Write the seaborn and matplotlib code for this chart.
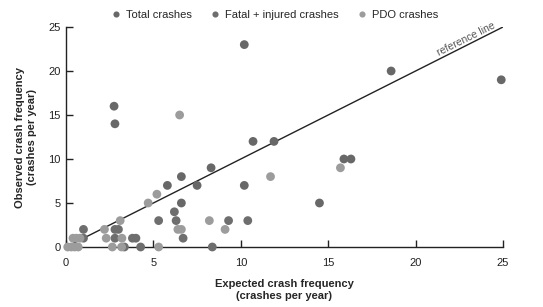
import seaborn as sns
import matplotlib.pyplot as plt
import pandas as pd
import numpy as np

# expected vs observed crash frequency
total_x = [10.2, 18.6, 24.9, 2.75, 2.8, 10.7, 11.9, 15.9, 16.3, 8.3, 6.6, 5.8, 7.5, 10.2, 14.5, 6.6]
total_y = [23, 20, 19, 16, 14, 12, 12, 10, 10, 9, 8, 7, 7, 7, 5, 5]

fatal_x = [6.2, 5.3, 6.3, 9.3, 10.4, 1.0, 2.8, 3.0, 1.0, 2.8, 3.8, 4.0, 6.7, 3.34, 4.27, 8.37]
fatal_y = [4, 3, 3, 3, 3, 2, 2, 2, 1, 1, 1, 1, 1, 0, 0, 0]

pdo_x = [6.5, 11.7, 15.7, 5.2, 4.7, 3.1, 8.2, 2.2, 6.4, 6.6, 9.1, 0.4, 0.6, 0.8, 2.3, 3.2,
         0.1, 0.3, 0.5, 0.7, 2.65, 3.18, 5.3]
pdo_y = [15, 8, 9, 6, 5, 3, 3, 2, 2, 2, 2, 1, 1, 1, 1, 1,
         0, 0, 0, 0, 0, 0, 0]

ticks = [0, 5, 10, 15, 20, 25]

df = pd.concat([
    pd.DataFrame({'expected': total_x, 'observed': total_y, 'type': 'Total crashes'}),
    pd.DataFrame({'expected': fatal_x, 'observed': fatal_y, 'type': 'Fatal + injured crashes'}),
    pd.DataFrame({'expected': pdo_x, 'observed': pdo_y, 'type': 'PDO crashes'}),
])
colors = {'Total crashes': '#686868', 'Fatal + injured crashes': '#6e6e6e', 'PDO crashes': '#9c9c9c'}

sns.set_style('white')
plt.rcParams['font.family'] = ['Liberation Sans', 'DejaVu Sans']

fig = plt.figure(figsize=(5.43, 3.07), dpi=100)
ax = fig.add_axes([66/543, 1-247/307, 437/543, 220/307])

sns.scatterplot(data=df, x='expected', y='observed', hue='type', palette=colors,
                s=40, linewidth=0, ax=ax, clip_on=False, zorder=3)

# reference line y = x
ax.plot([0, 25], [0, 25], color='#222222', lw=1, zorder=2)
ax.text(22.9, 23.6, 'reference line', rotation=26.5, ha='center', va='center',
        fontsize=7.5, color='#555555', rotation_mode='anchor')

ax.set_xlim(0, 25)
ax.set_ylim(0, 25)
ax.set_xticks(ticks)
ax.set_yticks(ticks)
ax.tick_params(direction='in', length=5, width=1, labelsize=8, colors='#222222',
               bottom=True, left=True, pad=4)
ax.tick_params(axis='x', pad=8)
for s in ['top', 'right']:
    ax.spines[s].set_visible(False)
for s in ['left', 'bottom']:
    ax.spines[s].set_color('#222222')
    ax.spines[s].set_linewidth(1)

ax.set_xlabel('Expected crash frequency\n(crashes per year)', fontsize=8, fontweight='bold', labelpad=8)
ax.set_ylabel('Observed crash frequency\n(crashes per year)', fontsize=8, fontweight='bold', labelpad=8)

handles, labels = ax.get_legend_handles_labels()
ax.legend_.remove()
fig.legend(handles, labels, loc='upper center', bbox_to_anchor=(0.505, 1.0), ncol=3,
           frameon=False, fontsize=8, markerscale=0.7, handlelength=1.0,
           handletextpad=0.4, columnspacing=1.6)

fig.savefig('out.png', dpi=100)
